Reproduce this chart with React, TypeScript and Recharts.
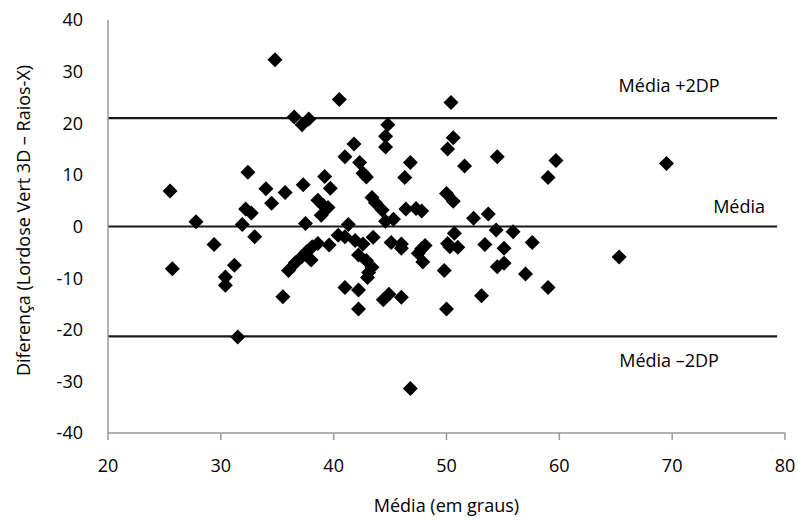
import React from 'react';
import { ScatterChart, Scatter, XAxis, YAxis, ReferenceLine } from 'recharts';

// Mean of the two methods (x, degrees)
const meanValues = [
  34.8, 40.5, 50.4, 36.5, 37.2, 37.8, 44.8, 44.6, 44.6, 50.6,
  50.1, 41.8, 41.0, 42.3, 42.6, 42.9, 46.8, 46.3, 51.6, 54.5,
  59.7, 59.0, 69.5, 25.5, 32.4, 34.0, 35.7, 37.3, 39.2, 39.7,
  38.6, 39.1, 39.5, 38.9, 34.5, 32.2, 32.7, 27.8, 31.9, 37.5,
  41.3, 43.4, 43.7, 44.3, 44.6, 45.3, 46.4, 47.3, 47.8, 50.0,
  50.6, 52.4, 53.7,
  54.4, 55.9, 50.7, 40.4, 41.0, 43.5, 41.9, 42.6, 45.1, 46.0,
  46.0, 47.8, 48.1, 47.5, 47.9, 50.1, 50.3, 51.0, 53.4, 55.1,
  57.6, 49.8, 54.5, 55.1, 57.0, 59.0, 53.1, 50.0, 42.2, 42.9,
  43.4, 43.1, 43.0, 41.0, 42.2, 44.4, 44.9, 46.0, 42.2, 46.8,
  65.3, 33.0, 29.4, 25.7, 31.2, 30.4, 30.4, 35.5, 31.5, 36.0,
  36.6, 37.2, 37.6, 38.1, 38.6, 38.0, 39.6,
];

// Difference (Lordose Vert 3D - Raios-X)
const diffValues = [
  32.3, 24.6, 24.0, 21.2, 19.7, 20.8, 19.7, 17.5, 15.4, 17.2,
  15.0, 16.0, 13.5, 12.4, 10.3, 9.6, 12.4, 9.5, 11.7, 13.5,
  12.8, 9.5, 12.2, 6.9, 10.5, 7.3, 6.6, 8.1, 9.7, 7.4,
  5.1, 4.0, 3.7, 2.2, 4.5, 3.4, 2.6, 0.9, 0.4, 0.6,
  0.4, 5.6, 4.6, 3.2, 1.0, 1.4, 3.4, 3.5, 3.0, 6.4,
  4.9, 1.6, 2.4,
  -0.7, -1.0, -1.3, -1.7, -2.0, -2.1, -2.7, -3.4, -3.1, -3.4,
  -4.2, -4.3, -3.7, -5.2, -6.9, -3.3, -3.9, -4.0, -3.5, -4.2,
  -3.1, -8.5, -7.8, -7.1, -9.2, -11.8, -13.4, -16.0, -5.5, -6.6,
  -7.9, -8.9, -9.9, -11.8, -12.3, -14.2, -13.1, -13.7, -16.0, -31.4,
  -5.9, -2.0, -3.5, -8.2, -7.5, -9.8, -11.4, -13.6, -21.4, -8.5,
  -7.0, -5.8, -4.9, -3.9, -3.3, -6.5, -3.6,
];

const xTicks = [20, 30, 40, 50, 60, 70, 80];
const yTicks = [-40, -30, -20, -10, 0, 10, 20, 30, 40];

const meanDiff = 0;
const upperLimit = 21.0;
const lowerLimit = -21.3;
const limitStart = 20;
const limitEnd = 79.3;

const upperLabel = 'Média +2DP';
const meanLabel = 'Média';
const lowerLabel = 'Média –2DP';

const data = meanValues.map((x, i) => ({ x, y: diffValues[i] }));

const FONT = '"Open Sans", sans-serif';
const FS = 18;
const FW = 500;

const Diamond = (props: any) => {
  const { cx, cy } = props;
  if (cx == null || cy == null) return null;
  const r = 7.5;
  return (
    <polygon
      points={`${cx},${cy - r} ${cx + r},${cy} ${cx},${cy + r} ${cx - r},${cy}`}
      fill="#000"
    />
  );
};

const makeLabel = (text: string, fromRight: number, dy: number) => (props: any) => {
  const vb = props.viewBox || {};
  const x = (vb.x ?? 0) + (vb.width ?? 0) - fromRight;
  const y = (vb.y ?? 0) + dy;
  return (
    <text x={x} y={y} textAnchor="middle" fontFamily={FONT} fontSize={FS} fontWeight={FW} fill="#000">
      {text}
    </text>
  );
};

const YTitle = (props: any) => {
  const vb = props.viewBox || {};
  const cx = 23;
  const cy = (vb.y ?? 0) + (vb.height ?? 0) / 2 - 6;
  return (
    <text
      x={cx}
      y={cy}
      transform={`rotate(-90, ${cx}, ${cy})`}
      textAnchor="middle"
      dominantBaseline="central"
      fontFamily={FONT}
      fontSize={FS}
      fontWeight={FW}
      fill="#000"
    >
      Diferença (Lordose Vert 3D – Raios-X)
    </text>
  );
};

export default function App() {
  return (
    <div style={{ position: 'absolute', left: 0, top: 0, background: '#fff' }}>
      <ScatterChart
        width={798}
        height={520}
        margin={{ top: 20, right: 13, bottom: 0, left: 0 }}
      >
        <XAxis
          type="number"
          dataKey="x"
          domain={[20, 80]}
          ticks={xTicks}
          allowDataOverflow
          height={87}
          stroke="#999"
          strokeWidth={1.5}
          tickSize={7}
          tickMargin={19}
          tick={{ fill: '#000', fontSize: FS, fontFamily: FONT, fontWeight: FW }}
          label={{
            value: 'Média (em graus)',
            position: 'insideBottom',
            offset: 8,
            fill: '#000',
            fontSize: FS,
            fontFamily: FONT,
            fontWeight: FW,
          }}
        />
        <YAxis
          type="number"
          dataKey="y"
          domain={[-40, 40]}
          ticks={yTicks}
          allowDataOverflow
          width={108}
          stroke="#999"
          strokeWidth={1.5}
          tickLine={false}
          tickSize={0}
          tickMargin={25}
          tick={{ fill: '#000', fontSize: FS, fontFamily: FONT, fontWeight: FW }}
          label={YTitle}
        />
        <ReferenceLine
          segment={[{ x: limitStart, y: upperLimit }, { x: limitEnd, y: upperLimit }]}
          stroke="#1a1a1a"
          strokeWidth={2.2}
          label={makeLabel(upperLabel, 108, -26)}
        />
        <ReferenceLine
          segment={[{ x: limitStart, y: meanDiff }, { x: limitEnd, y: meanDiff }]}
          stroke="#1a1a1a"
          strokeWidth={2.2}
          label={makeLabel(meanLabel, 38, -14)}
        />
        <ReferenceLine
          segment={[{ x: limitStart, y: lowerLimit }, { x: limitEnd, y: lowerLimit }]}
          stroke="#1a1a1a"
          strokeWidth={2.2}
          label={makeLabel(lowerLabel, 108, 31)}
        />
        <Scatter data={data} shape={Diamond} isAnimationActive={false} />
      </ScatterChart>
    </div>
  );
}
